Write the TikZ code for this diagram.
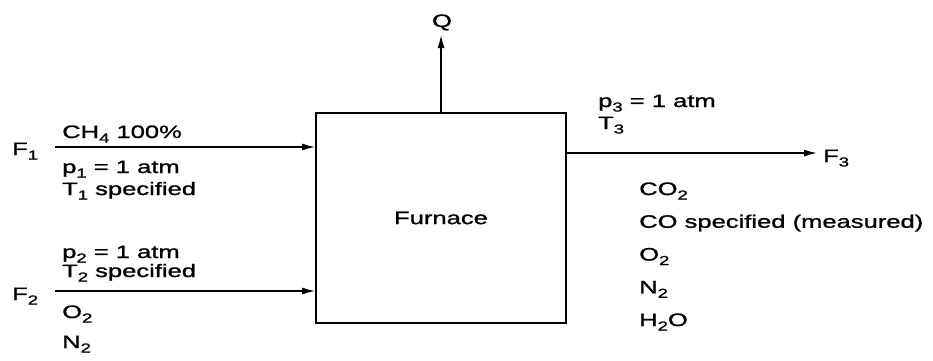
\documentclass[tikz,border=0pt]{standalone}
\usepackage{fontspec}
\setmainfont{Liberation Sans}[FakeStretch=1.42, FakeBold=1.2]
\usetikzlibrary{arrows.meta, positioning}

\newcommand{\sub}[1]{\raisebox{-4.5pt}{\fontsize{13}{13}\selectfont #1}}

\tikzset{
  lbl/.style={inner sep=0pt, anchor=base west, font=\fontsize{18}{20}\selectfont},
  flow/.style={-{Latex[length=13pt, width=7pt]}, line width=1.5pt},
  unitbox/.style={draw, line width=1.7pt, minimum width=250pt, minimum height=210pt,
    inner sep=0pt, font=\fontsize{18}{20}\selectfont}
}

\begin{document}
\begin{tikzpicture}[x=1pt, y={(0pt,-1pt)}]
  \useasboundingbox (0,0) rectangle (933,360);
  % Unit
  \node[unitbox] (furnace) at (441,218) {Furnace};
  % Heat out
  \coordinate (qout) at (441,35);
  \draw[flow] (furnace.north) -- (qout);
  \node[lbl, anchor=base] (Q) at (442,27) {Q};
  % Feed 1
  \node[lbl] (F1) at (12,155) {F\sub{1}};
  \coordinate (f1in) at (55,147);
  \draw[flow] (f1in) -- (f1in -| furnace.west);
  \node[lbl] (ch4) at (62,138) {CH\sub{4} 100\%};
  \node[lbl] (p1) at (62,173) {p\sub{1} = 1 atm};
  \node[lbl] (t1) at (62,195) {T\sub{1} specified};
  % Feed 2
  \node[lbl] (F2) at (12,300) {F\sub{2}};
  \coordinate (f2in) at (55,291);
  \draw[flow] (f2in) -- (f2in -| furnace.west);
  \node[lbl] (p2) at (62,258) {p\sub{2} = 1 atm};
  \node[lbl] (t2) at (62,277) {T\sub{2} specified};
  \node[lbl] (o2in) at (62,318) {O\sub{2}};
  \node[lbl] (n2in) at (62,348) {N\sub{2}};
  % Product
  \coordinate (f3out) at (817,153);
  \draw[flow] (furnace.east |- f3out) -- (f3out);
  \node[lbl] (F3) at (823,162) {F\sub{3}};
  \node[lbl] (p3) at (598,107) {p\sub{3} = 1 atm};
  \node[lbl] (t3) at (598,129) {T\sub{3}};
  \foreach \comp [count=\i] in {CO\sub{2}, CO specified (measured),
      O\sub{2}, N\sub{2}, H\sub{2}O}
    \node[lbl] (prod\i) at (639,{195+32.75*(\i-1)}) {\comp};
\end{tikzpicture}
\end{document}
